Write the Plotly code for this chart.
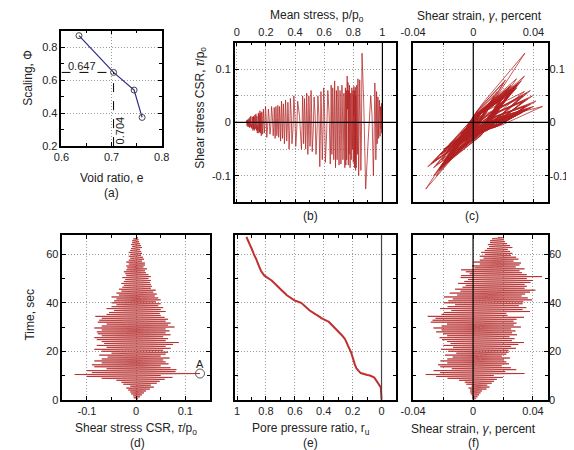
import numpy as np
import plotly.graph_objects as go

W, H = 574, 450

# (a) scaling factor vs void ratio
void_ratio = [0.635, 0.704, 0.745, 0.761]
scaling = [0.87, 0.647, 0.54, 0.374]
e_crit, phi_crit = 0.704, 0.647

# time histories: peak samples every 0.4 s, plus one sample between each pair of peaks
dt = 0.2
tau_peaks = [0.0, 0.004, -0.005, 0.008, -0.006, 0.012, -0.010, 0.016, -0.012, 0.020,
             -0.016, 0.028, -0.020, 0.036, -0.012, 0.030, -0.026, 0.042, -0.030, 0.048,
             -0.040, 0.058, -0.070, 0.074, -0.100, 0.050, -0.125, 0.130, -0.090, 0.080,
             -0.100, 0.082, -0.060, 0.070, -0.085, 0.050, -0.090, 0.066, -0.070, 0.060,
             -0.085, 0.055, -0.070, 0.068, -0.058, 0.050, -0.075, 0.060, -0.050, 0.065,
             -0.070, 0.055, -0.085, 0.070, -0.060, 0.060, -0.080, 0.075, -0.065, 0.087,
             -0.070, 0.060, -0.080, 0.065, -0.085, 0.055, -0.070, 0.070, -0.078, 0.060,
             -0.080, 0.068, -0.070, 0.060, -0.085, 0.078, -0.070, 0.065, -0.060, 0.070,
             -0.078, 0.060, -0.075, 0.065, -0.070, 0.058, -0.083, 0.050, -0.060, 0.048,
             -0.055, 0.060, -0.045, 0.050, -0.060, 0.055, -0.050, 0.045, -0.040, 0.050,
             -0.050, 0.040, -0.045, 0.050, -0.040, 0.045, -0.050, 0.038, -0.035, 0.042,
             -0.040, 0.035, -0.030, 0.040, -0.035, 0.030, -0.028, 0.032, -0.025, 0.030,
             -0.030, 0.028, -0.025, 0.030, -0.022, 0.025, -0.028, 0.030, -0.020, 0.025,
             -0.022, 0.020, -0.025, 0.018, -0.020, 0.022, -0.018, 0.015, -0.020, 0.018,
             -0.015, 0.018, -0.020, 0.012, -0.015, 0.016, -0.012, 0.014, -0.015, 0.010,
             -0.012, 0.012, -0.015, 0.010, -0.012, 0.008, -0.010, 0.012, -0.008, 0.010,
             -0.010, 0.008, -0.008, 0.006, -0.008, 0.005, -0.006, 0.004, 0.000]

tau_mids = [0.001, -0.001, 0.002, -0.001, 0.003, -0.002, 0.004, -0.003, 0.005, -0.004,
            0.007, -0.006, 0.010, -0.002, 0.008, -0.007, 0.012, -0.008, 0.014, -0.011,
            0.016, -0.020, 0.022, -0.030, 0.012, -0.035, 0.035, -0.025, 0.022, -0.030,
            0.024, -0.018, 0.020, -0.024, 0.014, -0.026, 0.018, -0.020, 0.016, -0.025,
            0.015, -0.020, 0.020, -0.016, 0.014, -0.022, 0.016, -0.014, 0.018, -0.020,
            0.016, -0.025, 0.020, -0.017, 0.017, -0.024, 0.022, -0.018, 0.025, -0.020,
            0.017, -0.024, 0.018, -0.025, 0.015, -0.020, 0.020, -0.022, 0.017, -0.024,
            0.020, -0.020, 0.017, -0.025, 0.022, -0.020, 0.018, -0.017, 0.020, -0.022,
            0.017, -0.022, 0.018, -0.020, 0.016, -0.024, 0.014, -0.017, 0.014, -0.016,
            0.017, -0.013, 0.014, -0.018, 0.016, -0.015, 0.013, -0.012, 0.014, -0.015,
            0.011, -0.013, 0.014, -0.012, 0.013, -0.015, 0.011, -0.010, 0.012, -0.012,
            0.010, -0.009, 0.012, -0.010, 0.009, -0.008, 0.009, -0.007, 0.009, -0.009,
            0.008, -0.007, 0.009, -0.006, 0.007, -0.008, 0.009, -0.006, 0.007, -0.006,
            0.006, -0.007, 0.005, -0.006, 0.006, -0.005, 0.004, -0.006, 0.005, -0.004,
            0.005, -0.006, 0.003, -0.004, 0.005, -0.003, 0.004, -0.004, 0.003, -0.003,
            0.003, -0.004, 0.003, -0.003, 0.002, -0.003, 0.003, -0.002, 0.003, -0.003,
            0.002, -0.002, 0.002, -0.002, 0.001, -0.002, 0.001, 0.001]

gamma_peaks = [0.0, 0.002, -0.0003, 0.003, -0.0005, 0.004, -0.0015, 0.005, -0.002, 0.006,
               -0.002, 0.009, -0.003, 0.011, -0.001, 0.0095, -0.0045, 0.0125, -0.0055, 0.014,
               -0.0093, 0.0159, -0.017, 0.020, -0.0246, 0.0138, -0.0316, 0.0343, -0.022, 0.0215,
               -0.0263, 0.0288, -0.0142, 0.0252, -0.0218, 0.0192, -0.0233, 0.024, -0.0172, 0.0222,
               -0.0218, 0.0207, -0.0172, 0.0246, -0.0136, 0.0192, -0.0187, 0.0222, -0.0112, 0.0237,
               -0.0166, 0.0237, -0.0214, 0.0286, -0.0134, 0.0254, -0.0198, 0.0302, -0.015, 0.034,
               -0.0173, 0.026, -0.0207, 0.0277, -0.0223, 0.0243, -0.0173, 0.0293, -0.020, 0.026,
               -0.0246, 0.0283, -0.021, 0.0254, -0.0264, 0.0319, -0.021, 0.0272, -0.0174, 0.029,
               -0.0282, 0.027, -0.027, 0.029, -0.025, 0.034, -0.0302, 0.023, -0.021, 0.0222,
               -0.0195, 0.038, -0.0145, 0.033, -0.022, 0.0355, -0.017, 0.0305, -0.012, 0.033,
               -0.0194, 0.0335, -0.0165, 0.0394, -0.0135, 0.0365, -0.0194, 0.0324, -0.0106, 0.0347,
               -0.0156, 0.038, -0.0084, 0.0416, -0.012, 0.0344, -0.007, 0.0359, -0.0049, 0.0344,
               -0.010, 0.0383, -0.0058, 0.040, -0.0033, 0.0358, -0.0083, 0.046, -0.008, 0.0358,
               -0.0023, 0.0327, -0.0048, 0.031, -0.008, 0.0343, 0.001, 0.0285, -0.0007, 0.031,
               0.0045, 0.032, 0.0003, 0.027, 0.0045, 0.0303, 0.007, 0.0287, 0.0045, 0.0253,
               0.0078, 0.0262, 0.0055, 0.0247, 0.0078, 0.0232, 0.0093, 0.0262, 0.0108, 0.0247,
               0.0099, 0.0227, 0.0113, 0.0213, 0.0113, 0.0206, 0.0127, 0.0199, 0.017]

gamma_mids = [0.0003, 0.0018, 0.0005, 0.0018, 0.0008, 0.0015, 0.001, 0.0013, 0.0013, 0.001,
              0.0018, 0.0025, 0.0025, 0.0035, 0.002, 0.0022, 0.003, 0.002, 0.0035, 0.0013,
              0.0011, -0.0001, 0.0026, -0.0027, 0.0001, -0.004, 0.006, -0.0014, 0.0026, -0.0015,
              0.0053, 0.0045, 0.0041, 0.0027, 0.0022, 0.0021, 0.0035, 0.0039, 0.0028, 0.0024,
              0.0015, 0.0049, 0.0051, 0.0042, 0.0012, 0.0043, 0.0038, 0.0068, 0.0025, 0.0057,
              0.0042, 0.0049, 0.0075, 0.0055, 0.0045, 0.0053, 0.0081, 0.0052, 0.0091, 0.0045,
              0.0067, 0.003, 0.005, 0.0047, 0.004, 0.0063, 0.0057, 0.0037, 0.0067, 0.003,
              0.0061, 0.0019, 0.0031, 0.0021, 0.0049, 0.0039, 0.0034, 0.0029, 0.0061, 0.0011,
              0.0048, -0.0008, 0.0032, 0.002, 0.0044, -0.0016, 0.0036, 0.0012, 0.0016, 0.0046,
              0.0105, 0.0075, 0.009, 0.005, 0.010, 0.0065, 0.0085, 0.008, 0.007, 0.0095,
              0.0085, 0.0104, 0.0122, 0.009, 0.0116, 0.0072, 0.0105, 0.0121, 0.0091, 0.011,
              0.0141, 0.0126, 0.0156, 0.0119, 0.0134, 0.0153, 0.0114, 0.016, 0.0134, 0.0146,
              0.0157, 0.0152, 0.0165, 0.016, 0.0148, 0.0143, 0.0165, 0.018, 0.0128, 0.016,
              0.016, 0.0152, 0.0152, 0.016, 0.016, 0.0168, 0.0143, 0.016, 0.0152, 0.0177,
              0.0172, 0.016, 0.0155, 0.0177, 0.0172, 0.0185, 0.0163, 0.0177, 0.0155, 0.0185,
              0.0153, 0.0179, 0.0153, 0.0187, 0.0145, 0.0187, 0.0153, 0.0195, 0.0153, 0.0187,
              0.0154, 0.0186, 0.0154, 0.0186, 0.0147, 0.0186, 0.0147, 0.0167]

ru_peaks = [0, 0, 0, 0, 0, 0, 0, 0, 0, 0,
            0, 0.002, 0.004, 0.006, 0.010, 0.013, 0.016, 0.021, 0.026, 0.031,
            0.036, 0.040, 0.045, 0.052, 0.062, 0.080, 0.115, 0.140, 0.148, 0.156,
            0.163, 0.168, 0.172, 0.176, 0.180, 0.182, 0.184, 0.186, 0.188, 0.190,
            0.192, 0.193, 0.195, 0.196, 0.197, 0.198, 0.200, 0.202, 0.206, 0.210,
            0.214, 0.218, 0.222, 0.226, 0.229, 0.232, 0.234, 0.236, 0.239, 0.242,
            0.245, 0.248, 0.251, 0.254, 0.258, 0.264, 0.271, 0.278, 0.285, 0.291,
            0.298, 0.305, 0.311, 0.316, 0.322, 0.328, 0.334, 0.341, 0.347, 0.352,
            0.358, 0.375, 0.392, 0.403, 0.413, 0.422, 0.430, 0.443, 0.456, 0.469,
            0.482, 0.490, 0.497, 0.505, 0.512, 0.520, 0.527, 0.535, 0.541, 0.548,
            0.556, 0.582, 0.595, 0.608, 0.621, 0.632, 0.641, 0.649, 0.657, 0.665,
            0.673, 0.680, 0.686, 0.693, 0.699, 0.706, 0.712, 0.718, 0.725, 0.731,
            0.737, 0.743, 0.750, 0.761, 0.772, 0.783, 0.794, 0.803, 0.811, 0.817,
            0.823, 0.828, 0.832, 0.835, 0.838, 0.841, 0.844, 0.847, 0.849, 0.852,
            0.855, 0.857, 0.859, 0.862, 0.865, 0.869, 0.872, 0.876, 0.879, 0.882,
            0.885, 0.886, 0.889, 0.892, 0.894, 0.897, 0.900, 0.903, 0.906, 0.909,
            0.912, 0.915, 0.918, 0.921, 0.924, 0.927, 0.930, 0.932, 0.935]

ru_mids = [0, 0, 0, 0, 0, 0, 0, 0, 0, 0,
           0.001, 0.003, 0.005, 0.008, 0.011, 0.014, 0.018, 0.023, 0.028, 0.033,
           0.038, 0.042, 0.048, 0.057, 0.071, 0.098, 0.128, 0.144, 0.152, 0.160,
           0.166, 0.170, 0.174, 0.178, 0.181, 0.183, 0.185, 0.187, 0.189, 0.191,
           0.192, 0.194, 0.195, 0.196, 0.197, 0.199, 0.201, 0.204, 0.208, 0.212,
           0.216, 0.220, 0.224, 0.227, 0.230, 0.233, 0.235, 0.237, 0.240, 0.243,
           0.246, 0.249, 0.252, 0.256, 0.261, 0.267, 0.274, 0.281, 0.288, 0.294,
           0.301, 0.308, 0.313, 0.319, 0.325, 0.331, 0.337, 0.344, 0.350, 0.355,
           0.366, 0.383, 0.397, 0.408, 0.418, 0.426, 0.436, 0.449, 0.462, 0.475,
           0.486, 0.493, 0.501, 0.508, 0.516, 0.523, 0.531, 0.538, 0.544, 0.552,
           0.569, 0.588, 0.601, 0.614, 0.626, 0.636, 0.645, 0.653, 0.661, 0.669,
           0.676, 0.683, 0.689, 0.696, 0.702, 0.709, 0.715, 0.721, 0.728, 0.734,
           0.740, 0.746, 0.755, 0.766, 0.777, 0.788, 0.798, 0.807, 0.814, 0.820,
           0.825, 0.830, 0.833, 0.836, 0.839, 0.842, 0.845, 0.848, 0.850, 0.853,
           0.856, 0.858, 0.860, 0.863, 0.867, 0.870, 0.874, 0.877, 0.880, 0.883,
           0.885, 0.887, 0.890, 0.893, 0.895, 0.898, 0.901, 0.904, 0.907, 0.910,
           0.913, 0.916, 0.919, 0.922, 0.925, 0.928, 0.931, 0.933]

point_a = (0.13, 10.8)


def interleave(peaks, mids):
    out = []
    for a, b in zip(peaks, mids):
        out += [a, b]
    out.append(peaks[-1])
    return np.array(out)


tau = interleave(tau_peaks, tau_mids)
gamma = interleave(gamma_peaks, gamma_mids)
ru = interleave(ru_peaks, ru_mids)
time = np.arange(len(tau)) * dt
p_mean = 1 - ru   # p/po = 1 - ru

RED = "rgba(178,34,34,0.75)"
FONT = "Liberation Sans"
GRID = dict(gridcolor="#9a9a9a", griddash="1px,2px", gridwidth=1)


def dx(a, b):
    return [a / W, b / W]


def dy(top, bottom):
    return [1 - bottom / H, 1 - top / H]


def ax(**kw):
    base = dict(showline=True, linecolor="black", linewidth=1.6, mirror="allticks",
                ticks="inside", ticklen=4, tickcolor="black", tickwidth=1,
                showgrid=True, zeroline=False, tickfont=dict(size=11, color="#222"),
                fixedrange=True, **GRID)
    base.update(kw)
    return base


def minor(step, grid=False):
    m = dict(dtick=step, ticks="inside", ticklen=3, tickcolor="black", showgrid=grid)
    if grid:
        m.update(GRID)
    return m


fig = go.Figure()

fig.add_trace(go.Scatter(x=void_ratio, y=scaling, mode="lines+markers",
                         line=dict(color="#2a2a8c", width=1.2),
                         marker=dict(symbol="circle-open", size=6, color="#444",
                                     line=dict(width=1)),
                         xaxis="x", yaxis="y"))
fig.add_trace(go.Scatter(x=p_mean, y=tau, mode="lines", line=dict(color=RED, width=1),
                         xaxis="x2", yaxis="y2"))
fig.add_trace(go.Scatter(x=gamma, y=tau, mode="lines", line=dict(color=RED, width=1),
                         xaxis="x3", yaxis="y3"))
fig.add_trace(go.Scatter(x=tau, y=time, mode="lines", line=dict(color=RED, width=1),
                         xaxis="x4", yaxis="y4"))
fig.add_trace(go.Scatter(x=[point_a[0]], y=[point_a[1]], mode="markers",
                         marker=dict(symbol="circle-open", size=9, color="#555",
                                     line=dict(width=1)),
                         xaxis="x4", yaxis="y4"))
fig.add_trace(go.Scatter(x=ru, y=time, mode="lines", line=dict(color="#c0302f", width=2),
                         xaxis="x5", yaxis="y5"))
fig.add_trace(go.Scatter(x=gamma, y=time, mode="lines", line=dict(color=RED, width=1),
                         xaxis="x6", yaxis="y6"))

tau_ticks = dict(tickmode="array", tickvals=[-0.1, 0, 0.1], ticktext=["-0.1", "0", "0.1"])
gam_ticks = dict(tickmode="array", tickvals=[-0.04, 0, 0.04], ticktext=["-0.04", "0", "0.04"])

fig.update_layout(
    width=W, height=H, margin=dict(l=0, r=0, t=0, b=0),
    paper_bgcolor="white", plot_bgcolor="white", showlegend=False,
    font=dict(family=FONT, size=11, color="#222"),
    xaxis=ax(domain=dx(42, 146), range=[0.6, 0.8], dtick=0.1, anchor="y", minor=minor(0.05)),
    yaxis=ax(domain=dy(23, 140), range=[0.2, 0.9], tick0=0.2, dtick=0.2, anchor="x",
             minor=minor(0.1)),
    xaxis2=ax(domain=dx(222, 389.5), range=[-0.013, 1.095], dtick=0.2, side="top",
              anchor="y2", minor=minor(0.1)),
    yaxis2=ax(domain=dy(35, 197), range=[-0.15, 0.15], anchor="x2", minor=minor(0.05, True),
              **tau_ticks),
    xaxis3=ax(domain=dx(407, 547.5), range=[-0.04, 0.05], side="top", anchor="y3",
              minor=minor(0.02, True), **gam_ticks),
    yaxis3=ax(domain=dy(35, 197), range=[-0.15, 0.15], side="right", anchor="x3",
              minor=minor(0.05, True), ticklabelstandoff=-3, **tau_ticks),
    xaxis4=ax(domain=dx(43, 196), range=[-0.15, 0.15], anchor="y4", minor=minor(0.05),
              **tau_ticks),
    yaxis4=ax(domain=dy(230, 397), range=[0, 68], dtick=20, anchor="x4", minor=minor(10)),
    xaxis5=ax(domain=dx(222.5, 389.5), range=[1.012, -0.102], dtick=0.2, anchor="y5",
              minor=minor(0.1)),
    yaxis5=ax(domain=dy(230, 397), range=[0, 68], dtick=20, showticklabels=False, anchor="x5",
              minor=minor(10)),
    xaxis6=ax(domain=dx(407, 547), range=[-0.04, 0.05], anchor="y6", minor=minor(0.02, True),
              **gam_ticks),
    yaxis6=ax(domain=dy(230, 397), range=[0, 68], dtick=20, side="right", anchor="x6",
              minor=minor(10), ticklabelstandoff=-3),
)

shapes = [
    dict(type="line", xref="x", yref="y", x0=0.6, x1=e_crit, y0=phi_crit, y1=phi_crit,
         line=dict(color="black", width=1, dash="dash")),
    dict(type="line", xref="x", yref="y", x0=e_crit, x1=e_crit, y0=0.2, y1=phi_crit,
         line=dict(color="black", width=1, dash="dash")),
    dict(type="line", xref="x2", yref="y2", x0=1, x1=1, y0=-0.15, y1=0.15,
         line=dict(color="black", width=1.2)),
    dict(type="line", xref="x2", yref="y2", x0=-0.013, x1=1.095, y0=0, y1=0,
         line=dict(color="black", width=1.2)),
    dict(type="line", xref="x3", yref="y3", x0=0, x1=0, y0=-0.15, y1=0.15,
         line=dict(color="black", width=1.2)),
    dict(type="line", xref="x3", yref="y3", x0=-0.04, x1=0.05, y0=0, y1=0,
         line=dict(color="black", width=1.2)),
    dict(type="line", xref="x5", yref="y5", x0=0, x1=0, y0=0, y1=68,
         line=dict(color="#444", width=1.2)),
    dict(type="line", xref="x6", yref="y6", x0=0, x1=0, y0=0, y1=68,
         line=dict(color="black", width=1.2)),
]
fig.update_layout(shapes=shapes)


def label(text, x, y, angle=0, size=12):
    fig.add_annotation(text=text, x=x / W, y=1 - y / H, xref="paper", yref="paper",
                       showarrow=False, textangle=angle, xanchor="center", yanchor="middle",
                       font=dict(family=FONT, size=size, color="#222"))


label("Scaling, Φ", 7, 71, -90)
label("Void ratio, e", 94, 172)
label("(a)", 94, 188)
label("Mean stress, p/p<sub>o</sub>", 307, 8)
label("Shear strain, <i>γ</i>, percent", 476, 8)
label("Shear stress CSR, <i>τ</i>/p<sub>o</sub>", 186, 101, -90)
label("(b)", 301, 211)
label("(c)", 468, 211)
label("Time, sec", 9, 311, -90)
label("Shear stress CSR, <i>τ</i>/p<sub>o</sub>", 119, 427)
label("(d)", 121, 441)
label("Pore pressure ratio, r<sub>u</sub>", 301, 427)
label("(e)", 301, 441)
label("Shear strain, <i>γ</i>, percent", 470, 427)
label("(f)", 470, 441)

fig.add_annotation(text=f"{phi_crit}", x=0.641, y=0.683, xref="x", yref="y", showarrow=False,
                   font=dict(family=FONT, size=11, color="#222"))
fig.add_annotation(text=f"{e_crit}", x=0.717, y=0.296, xref="x", yref="y", showarrow=False,
                   textangle=-90, font=dict(family=FONT, size=11, color="#222"))
fig.add_annotation(text="A", x=point_a[0], y=14.8, xref="x4", yref="y4", showarrow=False,
                   font=dict(family=FONT, size=11, color="#222"))

fig.write_html("out.html")
